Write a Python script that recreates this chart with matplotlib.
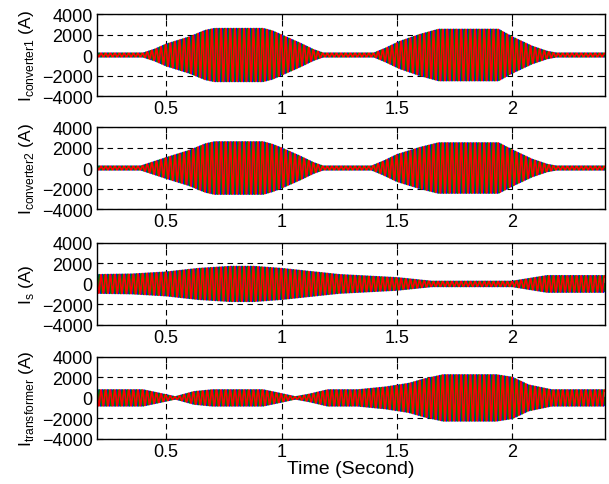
import matplotlib
matplotlib.use("Agg")
import matplotlib.pyplot as plt
import numpy as np

plt.rcParams['font.family'] = ['Liberation Sans', 'DejaVu Sans']
plt.rcParams['mathtext.fontset'] = 'custom'
plt.rcParams['mathtext.rm'] = 'Liberation Sans'

# envelope breakpoints: time (s) / peak current (A)
t_conv1 = [0.2, 0.40, 0.45, 0.50, 0.60, 0.67, 0.71, 0.92, 0.96, 1.00, 1.08, 1.14, 1.18, 1.40, 1.45, 1.51, 1.60, 1.68, 1.94, 2.00, 2.085, 2.15, 2.19, 2.4]
a_conv1 = [180, 180, 550, 1050, 1750, 2400, 2580, 2580, 2350, 1950, 1150, 500, 180, 180, 650, 1300, 2000, 2500, 2500, 1750, 850, 350, 180, 180]

t_conv2 = [0.2, 0.39, 0.44, 0.50, 0.60, 0.67, 0.71, 0.92, 0.96, 1.00, 1.08, 1.14, 1.18, 1.39, 1.44, 1.50, 1.60, 1.68, 1.94, 2.00, 2.085, 2.15, 2.19, 2.4]
a_conv2 = [180, 180, 550, 1000, 1700, 2350, 2550, 2550, 2300, 1950, 1150, 500, 180, 180, 650, 1300, 2000, 2450, 2450, 1750, 850, 350, 180, 180]

t_is = [0.2, 0.35, 0.50, 0.64, 0.78, 0.88, 1.00, 1.25, 1.50, 1.65, 2.00, 2.15, 2.4]
a_is = [900, 950, 1150, 1500, 1700, 1700, 1500, 900, 600, 250, 250, 800, 800]

t_tr = [0.2, 0.40, 0.50, 0.54, 0.62, 0.70, 0.92, 1.00, 1.06, 1.12, 1.20, 1.33, 1.45, 1.55, 1.62, 1.70, 1.93, 2.00, 2.07, 2.17, 2.4]
a_tr = [780, 780, 300, 100, 600, 780, 780, 400, 100, 350, 780, 780, 1050, 1400, 1850, 2250, 2250, 2000, 1250, 780, 780]

panels = [
    (t_conv1, a_conv1, r'I$_\mathrm{converter1}$ (A)'),
    (t_conv2, a_conv2, r'I$_\mathrm{converter2}$ (A)'),
    (t_is, a_is, r'I$_\mathrm{s}$ (A)'),
    (t_tr, a_tr, r'I$_\mathrm{transformer}$ (A)'),
]

f_grid = 50.0
time = np.linspace(0.2, 2.4, 40000)
phase_colors = ['#0000ff', '#008000', '#ff0000']
phase_shift = [0, -2 * np.pi / 3, 2 * np.pi / 3]

fig = plt.figure(figsize=(6.09, 4.85), dpi=100)
bottoms = [0.800, 0.567, 0.328, 0.093]
left, width, height = 0.159, 0.834, 0.169

for (tk, ak, lab), b in zip(panels, bottoms):
    ax = fig.add_axes([left, b, width, height])
    env = np.interp(time, tk, ak)
    for c, ph in zip(phase_colors, phase_shift):
        ax.plot(time, env * np.sin(2 * np.pi * f_grid * time + ph), color=c, lw=1.2)
    ax.set_xlim(0.2, 2.4)
    ax.set_ylim(-4000, 4000)
    ax.set_xticks([0.5, 1, 1.5, 2])
    ax.set_xticklabels(['0.5', '1', '1.5', '2'])
    ax.set_yticks([-4000, -2000, 0, 2000, 4000])
    ax.set_axisbelow(True)
    ax.grid(True, color='black', linestyle=(0, (5, 4)), linewidth=0.8)
    ax.tick_params(direction='in', top=True, right=True, length=4, labelsize=13, pad=3)
    for s in ax.spines.values():
        s.set_linewidth(1.0)
    ax.set_ylabel(lab, fontsize=12.5, labelpad=4)

ax.set_xlabel('Time (Second)', fontsize=14, labelpad=0)

fig.savefig('out.png', dpi=100)
